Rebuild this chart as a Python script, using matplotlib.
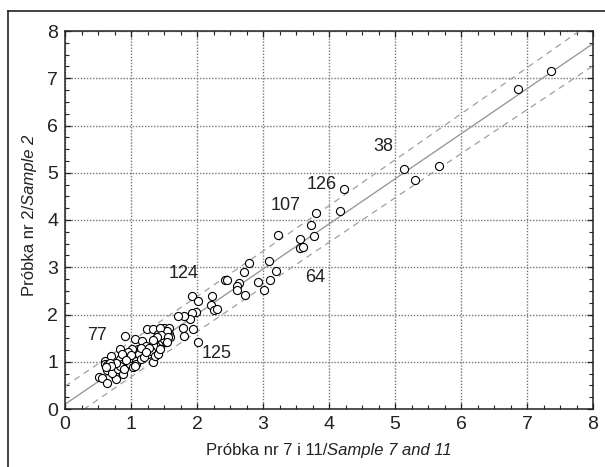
import matplotlib
matplotlib.use("Agg")
import matplotlib.pyplot as plt
from matplotlib.lines import Line2D
from matplotlib.ticker import MultipleLocator
import numpy as np

FONT = "Liberation Sans"
plt.rcParams['font.family'] = [FONT, 'DejaVu Sans']

# ---- data ----
x_vals = [7.36, 6.87, 5.67, 5.30, 5.14, 4.23, 4.17, 3.81, 3.72, 3.78, 3.56, 3.56, 3.61,
          3.23, 3.09, 3.19, 3.11, 3.02, 2.93, 2.79, 2.71, 2.72, 2.64, 2.60, 2.61, 2.42,
          2.45, 2.23, 2.21, 2.25, 2.31, 1.93, 2.02, 1.99, 1.92, 1.90, 1.80, 1.71, 1.79,
          1.81, 1.94, 2.01,
          0.52, 0.56, 0.64, 0.61, 0.60, 0.63, 0.64, 0.69, 0.72, 0.75, 0.77, 0.71, 0.83,
          0.83, 0.86, 0.80, 0.88, 0.84, 0.91, 0.92, 0.95, 0.90, 0.98, 1.01, 1.03, 1.06,
          1.08, 1.10, 1.12, 1.08, 1.15, 1.17, 1.19, 1.23, 1.24, 1.25, 1.30, 1.33, 1.34,
          1.36, 1.38, 1.41, 1.41, 1.45, 1.47, 1.50, 1.52, 1.53, 1.57, 1.58, 1.59, 1.50,
          1.44, 1.15, 1.01, 1.06, 0.95, 0.86, 0.77, 0.68, 1.40, 1.48, 1.55, 1.20, 0.70,
          0.62, 1.44, 1.46, 1.39, 1.56, 1.54, 1.33, 1.28, 1.22, 1.00, 0.93]
y_vals = [7.16, 6.78, 5.15, 4.84, 5.08, 4.65, 4.19, 4.15, 3.89, 3.66, 3.60, 3.40, 3.42,
          3.68, 3.14, 2.93, 2.72, 2.52, 2.69, 3.09, 2.89, 2.42, 2.67, 2.60, 2.52, 2.74,
          2.74, 2.40, 2.21, 2.10, 2.12, 2.40, 2.28, 2.05, 2.04, 1.91, 1.97, 1.97, 1.72,
          1.55, 1.70, 1.41,
          0.68, 0.65, 0.56, 1.02, 0.95, 0.93, 0.83, 1.12, 0.91, 0.70, 0.63, 0.77, 1.27,
          1.05, 0.95, 0.84, 0.75, 0.91, 1.55, 1.14, 1.02, 0.84, 0.95, 1.07, 0.88, 1.48,
          1.02, 1.27, 1.16, 0.95, 1.05, 1.44, 1.27, 1.34, 1.69, 1.16, 1.23, 1.00, 1.69,
          1.12, 1.48, 1.58, 1.16, 1.37, 1.44, 1.72, 1.62, 1.41, 1.72, 1.58, 1.53, 1.49,
          1.27, 1.30, 1.27, 0.91, 1.20, 1.16, 0.98, 0.98, 1.52, 1.62, 1.66, 1.10, 0.90,
          0.88, 1.71, 1.57, 1.53, 1.52, 1.42, 1.46, 1.30, 1.20, 1.15, 1.03]

labels = ["77", "125", "124", "64", "107", "126", "38"]
label_x = [0.49, 2.29, 1.79, 3.79, 3.35, 3.89, 4.82]
label_y = [1.56, 1.18, 2.87, 2.79, 4.31, 4.75, 5.55]

ticks = [0, 1, 2, 3, 4, 5, 6, 7, 8]

xlabel_parts = ["Próbka nr 7 i 11/", "Sample 7 and 11"]
ylabel_parts = ["Próbka nr 2/", "Sample 2"]

# regression fit and prediction band
fit_intercept = 0.10
fit_slope = 0.954
band_a = 0.139
band_b = 0.00206
band_center = 1.7

TXT = '#222222'
W, H = 605, 467
fig = plt.figure(figsize=(W / 100, H / 100), dpi=100)
ax = fig.add_axes([65 / W, 1 - 409 / H, 528 / W, 378 / H])

xs = np.linspace(0, 8, 300)
yfit = fit_intercept + fit_slope * xs
off = np.sqrt(band_a + band_b * (xs - band_center) ** 2)
ax.plot(xs, yfit, color='#9a9a9a', lw=1.0, zorder=2)
ax.plot(xs, yfit + off, color='#a0a0a0', lw=0.9, ls=(0, (5, 4)), zorder=2)
ax.plot(xs, yfit - off, color='#a0a0a0', lw=0.9, ls=(0, (5, 4)), zorder=2)

ax.scatter(x_vals, y_vals, s=34, facecolors='white', edgecolors='black',
           linewidths=0.8, zorder=3)

for t, lx, ly in zip(labels, label_x, label_y):
    ax.text(lx, ly, t, fontsize=13, ha='center', va='center', color=TXT)

ax.set_xlim(0, 8)
ax.set_ylim(0, 8)
ax.set_xticks(ticks)
ax.set_yticks(ticks)
ax.xaxis.set_minor_locator(MultipleLocator(0.25))
ax.yaxis.set_minor_locator(MultipleLocator(0.25))
ax.tick_params(which='both', direction='in', top=True, right=True,
               labelsize=14, colors=TXT)
ax.tick_params(which='major', length=4, width=0.9, pad=5)
ax.tick_params(which='minor', length=3, width=0.8)
ax.grid(True, which='major', color='#777777', ls=(0, (1, 1.2)), lw=1.0)
ax.set_axisbelow(True)
for s in ax.spines.values():
    s.set_linewidth(1.1)
    s.set_color(TXT)

# axis labels: regular + italic parts
LFS = 12
renderer = fig.canvas.get_renderer()

# x label, centred under the axes, baseline at y=455 px
xa = fig.text(0, 1 - 455 / H, xlabel_parts[0], fontsize=LFS, color=TXT,
              ha='left', va='baseline')
xb = fig.text(0, 1 - 455 / H, xlabel_parts[1], fontsize=LFS, color=TXT,
              style='italic', ha='left', va='baseline')
wa = xa.get_window_extent(renderer).width
wb = xb.get_window_extent(renderer).width
cx = (65 + 593) / 2
x0 = cx - (wa + wb) / 2
xa.set_x(x0 / W)
xb.set_x((x0 + wa) / W)

# y label, rotated, baseline at x=34 px, centred at y=215 px
ya = fig.text(34 / W, 0, ylabel_parts[0], fontsize=LFS, color=TXT, rotation=90,
              rotation_mode='anchor', ha='left', va='baseline')
yb = fig.text(34 / W, 0, ylabel_parts[1], fontsize=LFS, color=TXT, rotation=90,
              style='italic', rotation_mode='anchor', ha='left', va='baseline')
ha_ = ya.get_window_extent(renderer).height
hb_ = yb.get_window_extent(renderer).height
cy = H - 215
y0 = cy - (ha_ + hb_) / 2
ya.set_y(y0 / H)
yb.set_y((y0 + ha_) / H)

# outer frame (cropped)
fig.add_artist(Line2D([8 / W, 1.0], [1 - 11 / H, 1 - 11 / H], color=TXT, lw=1.2,
                      transform=fig.transFigure))
fig.add_artist(Line2D([8 / W, 8 / W], [0, 1 - 11 / H], color=TXT, lw=1.2,
                      transform=fig.transFigure))

fig.savefig('out.png', dpi=100)
